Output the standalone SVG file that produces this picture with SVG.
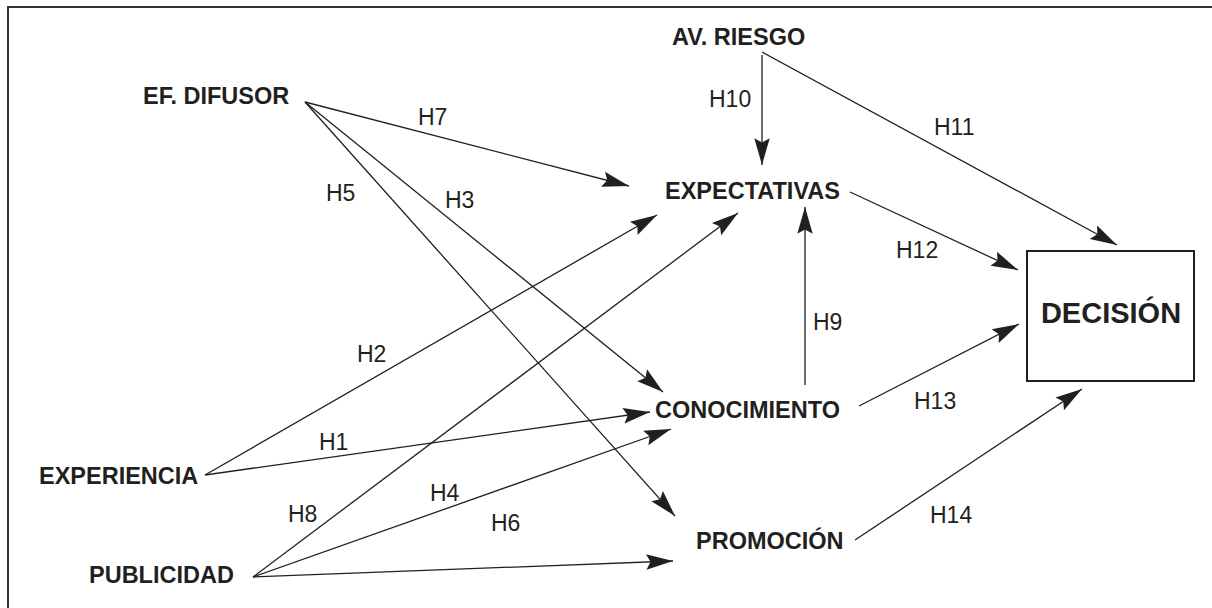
<svg xmlns="http://www.w3.org/2000/svg" width="1212" height="608" viewBox="0 0 1212 608">
  <style>
    .node { font-family: "Liberation Sans", Arial, Helvetica, sans-serif; font-weight: bold; font-size: 23.5px; fill: #231f20; }
    .big { font-size: 29px; }
    .hyp { font-family: "Liberation Sans", Arial, Helvetica, sans-serif; font-size: 23px; fill: #231f20; }
    .edge { stroke: #231f20; stroke-width: 1.3; fill: none; marker-end: url(#arrow); }
    .frame { stroke: #333; stroke-width: 2; fill: none; }
  </style>
  <defs>
    <marker id="arrow" markerUnits="userSpaceOnUse" markerWidth="30" markerHeight="20" viewBox="-26 -8 28 16" refX="0" refY="0" orient="auto">
      <path d="M0,0 L-25,-7.2 L-21,0 L-25,7.2 Z" fill="#231f20"/>
    </marker>
  </defs>

  <rect width="1212" height="608" fill="#fff"/>
  <!-- open frame: top and left rules -->
  <path class="frame" d="M8,608 V7 H1212"/>

  <g id="connectors">
    <!-- EF. DIFUSOR -->
    <line class="edge" x1="305" y1="102" x2="629" y2="186"/>
    <line class="edge" x1="305" y1="102" x2="663" y2="392"/>
    <line class="edge" x1="305" y1="102" x2="675" y2="516"/>
    <!-- EXPERIENCIA -->
    <line class="edge" x1="205" y1="475" x2="657" y2="215"/>
    <line class="edge" x1="205" y1="475" x2="650" y2="412"/>
    <!-- PUBLICIDAD -->
    <line class="edge" x1="253" y1="577" x2="738" y2="213"/>
    <line class="edge" x1="253" y1="577" x2="671" y2="429"/>
    <line class="edge" x1="253" y1="577" x2="673" y2="561"/>
    <!-- AV. RIESGO -->
    <line class="edge" x1="762" y1="55" x2="762" y2="165"/>
    <line class="edge" x1="762" y1="52" x2="1117" y2="245"/>
    <!-- CONOCIMIENTO to EXPECTATIVAS -->
    <line class="edge" x1="805" y1="385" x2="805" y2="207"/>
    <!-- into DECISIÓN -->
    <line class="edge" x1="850" y1="192" x2="1018" y2="270"/>
    <line class="edge" x1="859" y1="406" x2="1019" y2="324"/>
    <line class="edge" x1="855" y1="540" x2="1082" y2="389"/>
  </g>

  <g id="hypotheses">
    <text class="hyp" x="709" y="107">H10</text>
    <text class="hyp" x="934" y="135">H11</text>
    <text class="hyp" x="418" y="125">H7</text>
    <text class="hyp" x="326" y="201">H5</text>
    <text class="hyp" x="445" y="208">H3</text>
    <text class="hyp" x="896" y="258">H12</text>
    <text class="hyp" x="813" y="330">H9</text>
    <text class="hyp" x="357" y="362">H2</text>
    <text class="hyp" x="914" y="409">H13</text>
    <text class="hyp" x="319" y="450">H1</text>
    <text class="hyp" x="430" y="501">H4</text>
    <text class="hyp" x="288" y="522">H8</text>
    <text class="hyp" x="930" y="523">H14</text>
    <text class="hyp" x="491" y="531">H6</text>
  </g>

  <g id="ef-difusor"><text class="node" x="143" y="104">EF. DIFUSOR</text></g>
  <g id="av-riesgo"><text class="node" x="672" y="45">AV. RIESGO</text></g>
  <g id="expectativas"><text class="node" x="665" y="199">EXPECTATIVAS</text></g>
  <g id="conocimiento"><text class="node" x="655" y="418">CONOCIMIENTO</text></g>
  <g id="promocion"><text class="node" x="696" y="549">PROMOCIÓN</text></g>
  <g id="experiencia"><text class="node" x="39" y="484">EXPERIENCIA</text></g>
  <g id="publicidad"><text class="node" x="89" y="583">PUBLICIDAD</text></g>
  <g id="decision">
    <rect x="1027" y="251" width="167" height="130" fill="none" stroke="#231f20" stroke-width="2"/>
    <text class="node big" x="1111" y="323" text-anchor="middle">DECISIÓN</text>
  </g>
</svg>
